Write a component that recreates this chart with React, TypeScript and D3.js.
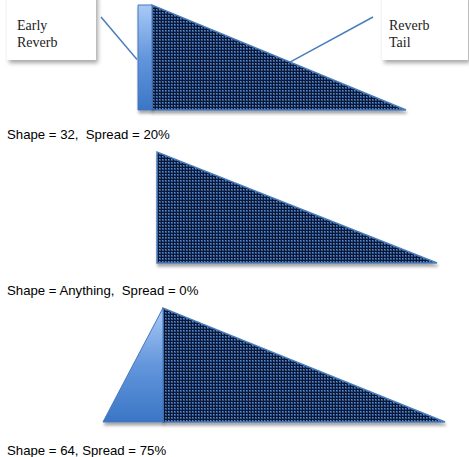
import React, { useEffect, useRef } from 'react';
import * as d3 from 'd3';

// Time axis (arbitrary units) shared by all three panels
const panelLabels = [
  'Shape = 32,  Spread = 20%',
  'Shape = Anything,  Spread = 0%',
  'Shape = 64, Spread = 75%',
];

// Early reverb outline per panel: [time, amplitude]
const earlyShapes: [number, number][][] = [
  [[38, 0], [38, 1], [52, 1], [52, 0]],
  [],
  [[3, 0], [63, 1], [63, 0]],
];

// Reverb tail: start time (full amplitude) and end time (silence)
const tailStart = [52, 57, 63];
const tailEnd = [306, 337, 345];

const calloutTexts = [['Early', 'Reverb'], ['Reverb', 'Tail']];

export default function App() {
  const svgRef = useRef<SVGSVGElement>(null);

  useEffect(() => {
    if (!svgRef.current) return;
    const width = 469;
    const height = 457;

    d3.select(svgRef.current).selectAll('*').remove();
    const svg = d3.select(svgRef.current)
      .attr('width', width)
      .attr('height', height);

    const defs = svg.append('defs');

    // checker pattern for the tail
    const pat = defs.append('pattern')
      .attr('id', 'checks')
      .attr('patternUnits', 'userSpaceOnUse')
      .attr('width', 3)
      .attr('height', 3);
    pat.append('rect').attr('width', 3).attr('height', 3).attr('fill', '#0c1730');
    pat.append('rect').attr('width', 2).attr('height', 2).attr('fill', '#2c5591');
    pat.append('rect').attr('width', 1).attr('height', 1).attr('fill', '#5d8bcc');

    const grad = defs.append('linearGradient')
      .attr('id', 'earlyGrad')
      .attr('x1', 0).attr('y1', 0).attr('x2', 0).attr('y2', 1);
    grad.append('stop').attr('offset', '0%').attr('stop-color', '#a9caf7');
    grad.append('stop').attr('offset', '50%').attr('stop-color', '#6396dc');
    grad.append('stop').attr('offset', '100%').attr('stop-color', '#3a76c6');

    const shadow = defs.append('filter')
      .attr('id', 'shadow')
      .attr('x', '-10%').attr('y', '-10%').attr('width', '130%').attr('height', '130%');
    shadow.append('feDropShadow')
      .attr('dx', 1).attr('dy', 3).attr('stdDeviation', 1.5)
      .attr('flood-color', '#000').attr('flood-opacity', 0.35);

    const boxShadow = defs.append('filter')
      .attr('id', 'boxShadow')
      .attr('x', '-10%').attr('y', '-10%').attr('width', '130%').attr('height', '130%');
    boxShadow.append('feDropShadow')
      .attr('dx', 2).attr('dy', 3).attr('stdDeviation', 2)
      .attr('flood-color', '#000').attr('flood-opacity', 0.35);

    const xScale = d3.scaleLinear().domain([0, 350]).range([100, 450]);
    const panelTop = [5, 152, 308];
    const panelBottom = [110, 263, 422];
    const labelY = [139, 295, 455];

    const line = d3.line<[number, number]>();

    const yScales = panelLabels.map((_, i) =>
      d3.scaleLinear().domain([0, 1]).range([panelBottom[i], panelTop[i]]));

    panelLabels.forEach((label, i) => {
      const y = yScales[i];
      const g = svg.append('g');

      const tailPts: [number, number][] = [
        [tailStart[i], 0], [tailStart[i], 1], [tailEnd[i], 0],
      ].map(([t, a]) => [xScale(t), y(a)]);

      g.append('path')
        .attr('d', line(tailPts) + 'Z')
        .attr('fill', 'url(#checks)')
        .attr('stroke', '#4a7ebd')
        .attr('stroke-width', 1.5)
        .attr('stroke-linejoin', 'miter')
        .attr('filter', 'url(#shadow)');

      if (earlyShapes[i].length) {
        const pts = earlyShapes[i].map(([t, a]) => [xScale(t), y(a)] as [number, number]);
        g.append('path')
          .attr('d', line(pts) + 'Z')
          .attr('fill', 'url(#earlyGrad)')
          .attr('stroke', '#4677bb')
          .attr('stroke-width', 1)
          .attr('filter', 'url(#shadow)');
      }

      svg.append('text')
        .attr('x', 7)
        .attr('y', labelY[i])
        .attr('font-family', '"Liberation Sans", Arial, sans-serif')
        .attr('font-size', 13.2)
        .attr('fill', '#000')
        .style('white-space', 'pre')
        .text(label);
    });

    // Callouts on the first panel
    const y0 = yScales[0];
    const tailAt = (t: number) => (tailEnd[0] - t) / (tailEnd[0] - tailStart[0]);
    const callouts = [
      { box: [7, -6, 89, 66], from: [101, 17], to: [xScale(earlyShapes[0][0][0]) - 1, y0(0.48)] },
      { box: [382, -6, 86, 66], from: [373, 17], to: [xScale(190), y0(tailAt(190))] },
    ];

    callouts.forEach((c, i) => {
      svg.append('line')
        .attr('x1', c.from[0]).attr('y1', c.from[1])
        .attr('x2', c.to[0]).attr('y2', c.to[1])
        .attr('stroke', '#4a7ebd')
        .attr('stroke-width', 1.5);

      svg.append('rect')
        .attr('x', c.box[0]).attr('y', c.box[1])
        .attr('width', c.box[2]).attr('height', c.box[3])
        .attr('fill', '#fff')
        .attr('filter', 'url(#boxShadow)');

      calloutTexts[i].forEach((t, j) => {
        svg.append('text')
          .attr('x', c.box[0] + (i === 0 ? 10 : 7))
          .attr('y', 30 + j * 16.5)
          .attr('font-family', '"Liberation Serif", "Times New Roman", serif')
          .attr('font-size', 14)
          .attr('fill', '#222')
          .text(t);
      });
    });
  }, []);

  return (
    <div style={{ position: 'absolute', left: 0, top: 0, background: '#fff' }}>
      <svg ref={svgRef} style={{ display: 'block' }} />
    </div>
  );
}
